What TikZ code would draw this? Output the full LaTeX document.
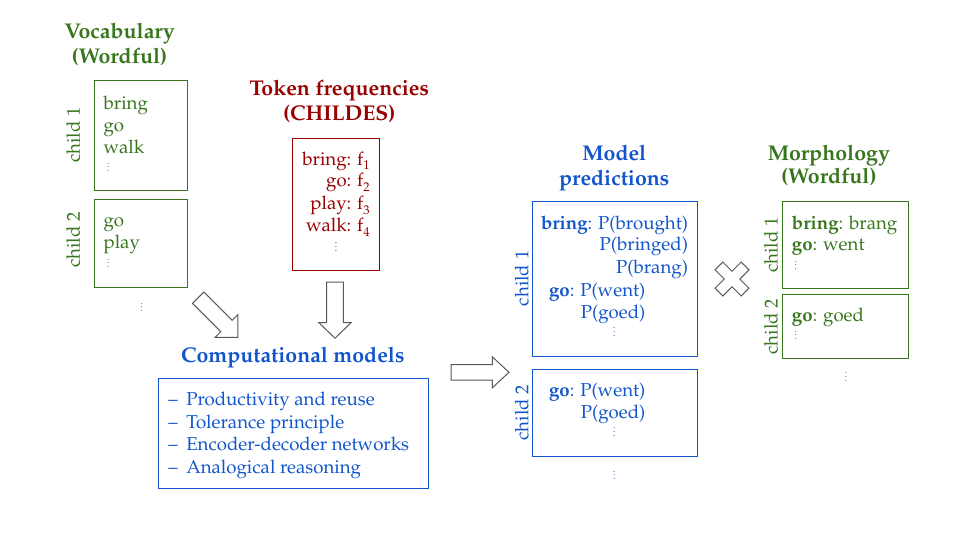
\documentclass[tikz,border=0pt]{standalone}
\usepackage[T1]{fontenc}
\usepackage{mathpazo}
\usepackage{graphicx}
\definecolor{vgreen}{HTML}{38761D}
\definecolor{dred}{HTML}{990000}
\definecolor{mblue}{HTML}{1155CC}
\definecolor{agray}{HTML}{595959}
\newcommand{\vd}{\scalebox{0.7}{\vbox{\baselineskip4pt\lineskiplimit0pt\hbox{.}\hbox{.}\hbox{.}}}}
\newcommand{\fsub}[1]{\raisebox{-3.6pt}{\fontsize{9.5}{11}\selectfont #1}}
\begin{document}
\begin{tikzpicture}[x=0.75pt,y=-0.75pt,
  txt/.style={font=\fontsize{14}{17}\selectfont, inner sep=0pt},
  ttl/.style={font=\fontsize{16}{19}\selectfont\bfseries, inner sep=0pt, anchor=base},
  lbl/.style={txt, rotate=90},
  dots/.style={inner sep=0pt, anchor=south},
  pbox/.style 2 args={draw, line width=0.75pt, inner sep=0pt, anchor=north west,
     minimum width=#1*0.75pt, minimum height=#2*0.75pt},
  blockarrow/.style={draw=agray, fill=white, line width=0.75pt, line join=miter}]
\useasboundingbox (0,0) rectangle (960,540);

% ---------- Vocabulary ----------
\begin{scope}[every node/.append style={text=vgreen}]
\node[ttl] (vt1) at (119.5,38.3) {Vocabulary};
\node[ttl] (vt2) at (119.5,63.3) {(Wordful)};
\node[pbox={92.4}{110}, draw=vgreen] (v1) at (94.3,80.3) {};
\node[pbox={92.4}{87.4}, draw=vgreen] (v2) at (94.3,199.3) {};
\node[txt, anchor=base west] (v1a) at (103.3,109.3) {bring};
\node[txt, anchor=base west] (v1b) at (103.3,131.5) {go};
\node[txt, anchor=base west] (v1c) at (103.3,153.7) {walk};
\node[dots] (v1d) at (108.3,172) {\vd};
\node[txt, anchor=base west] (v2a) at (103.3,226) {go};
\node[txt, anchor=base west] (v2b) at (103.3,248.5) {play};
\node[dots] (v2d) at (108.3,268) {\vd};
\node[lbl] (vl1) at (73.3,135) {child 1};
\node[lbl] (vl2) at (73.3,240) {child 2};
\node[dots] (vd) at (141.7,312) {\vd};
\end{scope}

% ---------- Token frequencies ----------
\begin{scope}[every node/.append style={text=dred}]
\node[ttl] (tt1) at (339.3,95) {Token frequencies};
\node[ttl] (tt2) at (339.3,120.5) {(CHILDES)};
\node[pbox={86.7}{131.7}, draw=dred] (tf) at (292.3,138.3) {};
\node[txt, anchor=base east] (tfa) at (370,165) {bring: f\fsub{1}};
\node[txt, anchor=base east] (tfb) at (370,186.7) {go: f\fsub{2}};
\node[txt, anchor=base east] (tfc) at (370,209.3) {play: f\fsub{3}};
\node[txt, anchor=base east] (tfd) at (370,231.7) {walk: f\fsub{4}};
\node[dots] (tfe) at (336,251.7) {\vd};
\end{scope}

% ---------- Computational models ----------
\begin{scope}[every node/.append style={text=mblue}]
\node[ttl] (ct) at (292.8,362.7) {Computational models};
\node[pbox={269.4}{110}, draw=mblue] (cm) at (158.3,378.3) {};
\node[txt, anchor=base west] (cma) at (168,405.7) {\makebox[13.5pt][l]{--}Productivity and reuse};
\node[txt, anchor=base west] (cmb) at (168,428.3) {\makebox[13.5pt][l]{--}Tolerance principle};
\node[txt, anchor=base west] (cmc) at (168,450.7) {\makebox[13.5pt][l]{--}Encoder-decoder networks};
\node[txt, anchor=base west] (cmd) at (168,473.3) {\makebox[13.5pt][l]{--}Analogical reasoning};
\end{scope}

% ---------- Model predictions ----------
\begin{scope}[every node/.append style={text=mblue}]
\node[ttl] (mt1) at (614.3,160.7) {Model};
\node[ttl] (mt2) at (614.3,185) {predictions};
\node[pbox={165}{155}, draw=mblue] (m1) at (532.3,201) {};
\node[pbox={165}{86.7}, draw=mblue] (m2) at (532.3,369.3) {};
\node[txt, anchor=base east] (m1a) at (688.3,229) {\textbf{bring}: P(brought)};
\node[txt, anchor=base east] (m1b) at (688.3,250.7) {P(bringed)};
\node[txt, anchor=base east] (m1c) at (688.3,273.3) {P(brang)};
\node[txt, anchor=base east] (m1d) at (645.7,296.7) {\textbf{go}: P(went)};
\node[txt, anchor=base east] (m1e) at (645.7,318.3) {P(goed)};
\node[dots] (m1f) at (614.3,336.7) {\vd};
\node[txt, anchor=base east] (m2a) at (645.7,396.7) {\textbf{go}: P(went)};
\node[txt, anchor=base east] (m2b) at (645.7,418.3) {P(goed)};
\node[dots] (m2c) at (614.3,436.7) {\vd};
\node[lbl] (ml1) at (521.7,278.3) {child 1};
\node[lbl] (ml2) at (521.7,412.7) {child 2};
\node[dots] (md) at (614.3,480) {\vd};
\end{scope}

% ---------- Morphology ----------
\begin{scope}[every node/.append style={text=vgreen}]
\node[ttl] (ot1) at (828.8,160) {Morphology};
\node[ttl] (ot2) at (828.8,183.3) {(Wordful)};
\node[pbox={126.6}{87.3}, draw=vgreen] (o1) at (781.7,201) {};
\node[pbox={126.6}{64}, draw=vgreen] (o2) at (781.7,294.3) {};
\node[txt, anchor=base west] (o1a) at (791.7,229) {\textbf{bring}: brang};
\node[txt, anchor=base west] (o1b) at (791.7,250.7) {\textbf{go}: went};
\node[dots] (o1c) at (795.7,270) {\vd};
\node[txt, anchor=base west] (o2a) at (791.7,321.7) {\textbf{go}: goed};
\node[dots] (o2b) at (795.7,340) {\vd};
\node[lbl] (ol1) at (771,245) {child 1};
\node[lbl] (ol2) at (771,326.7) {child 2};
\node[dots] (od) at (846,381.7) {\vd};
\end{scope}

% ---------- block arrows ----------
\draw[blockarrow, shift={(218,317.5)}, rotate=-45]
  (-28,-8) -- (12,-8) -- (12,-16) -- (28,0) -- (12,16) -- (12,8) -- (-28,8) -- cycle;
\draw[blockarrow, shift={(335,310.2)}, rotate=-90]
  (-28,-8.3) -- (12.4,-8.3) -- (12.4,-16.2) -- (28,0) -- (12.4,16.2) -- (12.4,8.3) -- (-28,8.3) -- cycle;
\draw[blockarrow, shift={(480,372.3)}]
  (-29,-7.8) -- (12.3,-7.8) -- (12.3,-15.5) -- (29,0) -- (12.3,15.5) -- (12.3,7.8) -- (-29,7.8) -- cycle;
% cross
\draw[blockarrow, shift={(732,279)}, rotate=45]
  (-5.5,-18.5) -- (5.5,-18.5) -- (5.5,-5.5) -- (18.5,-5.5) -- (18.5,5.5) -- (5.5,5.5) --
  (5.5,18.5) -- (-5.5,18.5) -- (-5.5,5.5) -- (-18.5,5.5) -- (-18.5,-5.5) -- (-5.5,-5.5) -- cycle;
\end{tikzpicture}
\end{document}
